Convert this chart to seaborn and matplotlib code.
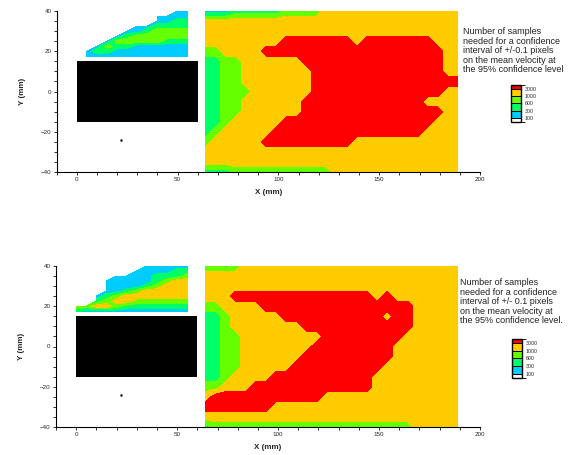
import numpy as np
import matplotlib
matplotlib.use("Agg")
import matplotlib.pyplot as plt
import seaborn as sns
from matplotlib import cm
from matplotlib.colors import ListedColormap, BoundaryNorm
from matplotlib.ticker import MultipleLocator

sns.set_theme(style="ticks")
plt.rcParams["font.family"] = ["Liberation Sans", "DejaVu Sans"]

# classes : 0 <100, 1 100-300, 2 300-600, 3 600-1000, 4 1000-3000, 5 >3000
level_colors = ["#ffffff", "#00ccff", "#00ff66", "#66ff00", "#ffcc00", "#ff0000"]
level_labels = ["100", "300", "600", "1000", "3000"]
legend_bounds = [0, 1, 3, 5, 7, 9, 10]

# grille du champ principal (mm)
field_x = np.arange(64, 190, 5)
field_y = np.arange(40, -41, -5)
# grille du sillage au-dessus du bloc (mm)
wake_x = np.arange(0, 56, 5)
wake_y = np.arange(40, 17, -2.5)

# bloc (mm) et point de mesure
block_x = [0, 60]
block_y = [-15, 15]
probe_x = [22]
probe_y = [-24]

# lignes de y=40 a y=-40, colonnes de x=64 a x=189
field_top = [
    "11122222333344444444444444",
    "44444444444444444444444444",
    "44444444444444444444444444",
    "44444444555555545555555444",
    "33444455555555555555555544",
    "22334444445555555555555544",
    "22334444444555555555555544",
    "22334444444555555555555555",
    "22333444444555555555555544",
    "22334444445555555555554444",
    "22334444445555555555555544",
    "22344444555555555555555444",
    "23444445555555555555554444",
    "34444455555555544444444444",
    "44444444444444444444444444",
    "44444444444444444444444444",
    "22233333333334444444444444",
]
wake_top = [
    "..........11",
    "........1111",
    "........1122",
    "......112222",
    ".....1123333",
    "....12333333",
    "...133333222",
    "..1322111111",
    ".12211111111",
    ".11111111111",
]

field_bottom = [
    "33334444444444444444444444",
    "44444444444444444444444444",
    "44444444444444444444444444",
    "44455555555555555454444444",
    "33444455555555555555544444",
    "22344444555555555545544444",
    "22344444445555555555544444",
    "22334444444455555555444444",
    "22334444444555555554444444",
    "22334444445555555554444444",
    "22334444455555555544444444",
    "22344445555555555444444444",
    "33444555555555555444444444",
    "45555555555544444444444444",
    "55555554444444444444444444",
    "44444444444444444444444444",
    "23333333333333333333344444",
]
wake_bottom = [
    ".......11111",
    "......111122",
    "....11112223",
    "...111112344",
    "...111123444",
    "...112344444",
    "..1234444444",
    "..2344333333",
    "334432222222",
    "211111111111",
]

note_top = ("Number of samples\nneeded for a confidence\ninterval of +/-0.1 pixels\n"
            "on the mean velocity at\nthe 95% confidence level")
note_bottom = ("Number of samples\nneeded for a confidence\ninterval of +/- 0.1 pixels\n"
               "on the mean velocity at\nthe 95% confidence level.")


def to_grid(rows):
    g = np.array([[np.nan if c == "." else float(c) for c in r] for r in rows])
    return np.ma.masked_invalid(g[::-1])


def draw_panel(fig, rect, cbar_rect, text_pos, field, wake, note):
    ax = fig.add_axes(rect)
    lev = np.arange(-0.5, 6)
    ax.contourf(field_x, field_y[::-1], to_grid(field), levels=lev, colors=level_colors)
    ax.contourf(wake_x, wake_y[::-1], to_grid(wake), levels=lev, colors=level_colors)
    ax.fill_between(block_x, block_y[0], block_y[1], color="black", lw=0)
    ax.plot(probe_x, probe_y, "s", color="black", ms=1.2)

    ax.set_xlim(-10, 200)
    ax.set_ylim(-40, 40)
    ax.set_xticks([0, 50, 100, 150, 200])
    ax.set_yticks([-40, -20, 0, 20, 40])
    ax.xaxis.set_minor_locator(MultipleLocator(10))
    ax.yaxis.set_minor_locator(MultipleLocator(5))
    ax.tick_params(which="both", direction="out", length=3.3, width=0.8,
                   color="black", labelsize=6.3, pad=2)
    ax.set_xlabel("X (mm)", fontsize=8, fontweight="bold", labelpad=7)
    ax.set_ylabel("Y (mm)", fontsize=8, fontweight="bold", labelpad=15)
    sns.despine(ax=ax)
    for s in ["left", "bottom"]:
        ax.spines[s].set_color("black")
        ax.spines[s].set_linewidth(1.1)

    fig.text(text_pos[0], text_pos[1], note, va="top", ha="left",
             fontsize=9, linespacing=1.08, color="#222222")

    cax = fig.add_axes(cbar_rect)
    cmap = ListedColormap(level_colors)
    norm = BoundaryNorm(legend_bounds, cmap.N)
    cb = fig.colorbar(cm.ScalarMappable(norm=norm, cmap=cmap), cax=cax,
                      spacing="proportional", drawedges=True,
                      ticks=legend_bounds[1:-1])
    cb.ax.set_yticklabels(level_labels)
    cb.ax.tick_params(length=0, labelsize=5.2, pad=4)
    cb.outline.set_linewidth(1.4)
    cb.outline.set_edgecolor("black")
    cb.dividers.set_color("black")
    cb.dividers.set_linewidth(1.0)


W, H = 576, 455
fig = plt.figure(figsize=(W / 72, H / 72), dpi=72)

draw_panel(fig,
           [56.7 / W, 1 - 172 / H, 423.3 / W, 161 / H],
           [511 / W, 1 - 122 / H, 10 / W, 37 / H],
           (463 / W, 1 - 27 / H),
           field_top, wake_top, note_top)
draw_panel(fig,
           [56 / W, 1 - 427 / H, 424 / W, 161 / H],
           [511.5 / W, 1 - 377.5 / H, 10 / W, 38.5 / H],
           (460 / W, 1 - 278 / H),
           field_bottom, wake_bottom, note_bottom)

fig.savefig("out.png", dpi=72)
